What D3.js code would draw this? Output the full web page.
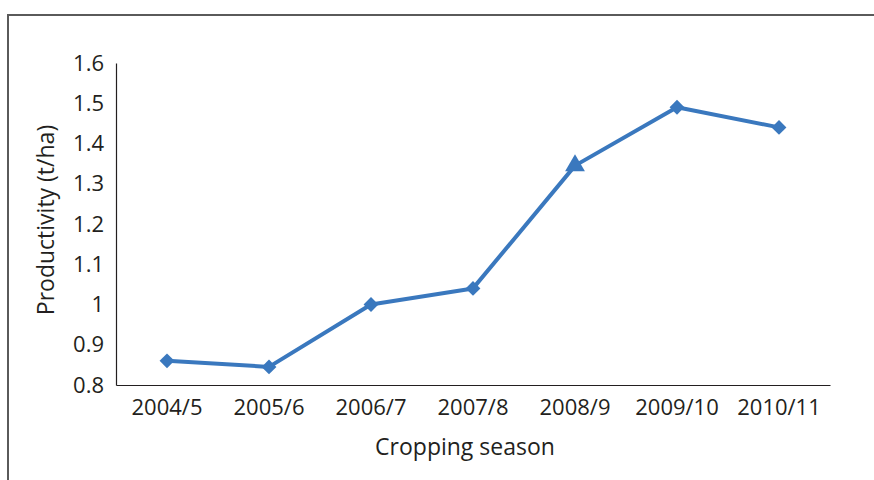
<!DOCTYPE html>
<html>
<head>
<meta charset="utf-8">
<script src="https://cdn.jsdelivr.net/npm/d3@7"></script>
<style>
  html, body { margin: 0; padding: 0; background: #fff; }
  svg { display: block; }
  text { font-family: "Open Sans", "Noto Sans", sans-serif; fill: #231f20; }
</style>
</head>
<body>
<div id="chart"></div>
<script>
// Crop productivity by season
const seasons = ["2004/5", "2005/6", "2006/7", "2007/8", "2008/9", "2009/10", "2010/11"];
const productivity = [0.86, 0.845, 1.0, 1.04, 1.345, 1.49, 1.44];
const markerShapes = ["diamond", "diamond", "diamond", "diamond", "triangle", "diamond", "diamond"];
const yTicks = [0.8, 0.9, 1, 1.1, 1.2, 1.3, 1.4, 1.5, 1.6];

const width = 874, height = 480;
const margin = { left: 116, right: 44, top: 63, bottom: 95 };

const svg = d3.select("#chart").append("svg")
  .attr("width", width).attr("height", height);

// Outer frame (open to the right and bottom)
svg.append("path")
  .attr("d", `M8,${height} L8,15 L${width},15`)
  .attr("fill", "none").attr("stroke", "#5a5a5a").attr("stroke-width", 2);

const x = d3.scaleBand().domain(seasons)
  .range([margin.left, width - margin.right]);
const y = d3.scaleLinear().domain([0.8, 1.6])
  .range([height - margin.bottom, margin.top]);

// Axes
const yAxis = svg.append("g")
  .attr("transform", `translate(${margin.left},0)`)
  .call(d3.axisLeft(y).tickValues(yTicks).tickSize(0).tickPadding(12)
    .tickFormat(d => String(d)));
yAxis.select(".domain").attr("stroke", "#231f20").attr("stroke-width", 1.2);
yAxis.selectAll("text").style("font-size", "22px").attr("fill", "#231f20");

const xAxis = svg.append("g")
  .attr("transform", `translate(0,${height - margin.bottom})`)
  .call(d3.axisBottom(x).tickSize(0).tickPadding(14));
xAxis.select(".domain").attr("stroke", "#231f20").attr("stroke-width", 1.2);
xAxis.selectAll("text").style("font-size", "22px").attr("fill", "#231f20");

// Axis titles
svg.append("text")
  .attr("x", (margin.left + width - margin.right) / 2 - 8).attr("y", 455)
  .attr("text-anchor", "middle").style("font-size", "23px")
  .text("Cropping season");
svg.append("text")
  .attr("transform", `translate(54,${(margin.top + height - margin.bottom) / 2 - 4}) rotate(-90)`)
  .attr("text-anchor", "middle").style("font-size", "23px")
  .text("Productivity (t/ha)");

// Series line
const color = "#3a78be";
const line = d3.line()
  .x((d, i) => x(seasons[i]) + x.bandwidth() / 2)
  .y(d => y(d));
svg.append("path").datum(productivity)
  .attr("d", line).attr("fill", "none")
  .attr("stroke", color).attr("stroke-width", 4).attr("stroke-linejoin", "round");

// Markers
const sym = { diamond: d3.symbol().type(d3.symbolSquare).size(110),
              triangle: d3.symbol().type(d3.symbolTriangle).size(170) };
svg.append("g").selectAll("path").data(productivity).join("path")
  .attr("d", (d, i) => sym[markerShapes[i]]())
  .attr("transform", (d, i) => {
    const cx = x(seasons[i]) + x.bandwidth() / 2, cy = y(d);
    return markerShapes[i] === "diamond"
      ? `translate(${cx},${cy}) rotate(45)`
      : `translate(${cx},${cy})`;
  })
  .attr("fill", color);
</script>
</body>
</html>
